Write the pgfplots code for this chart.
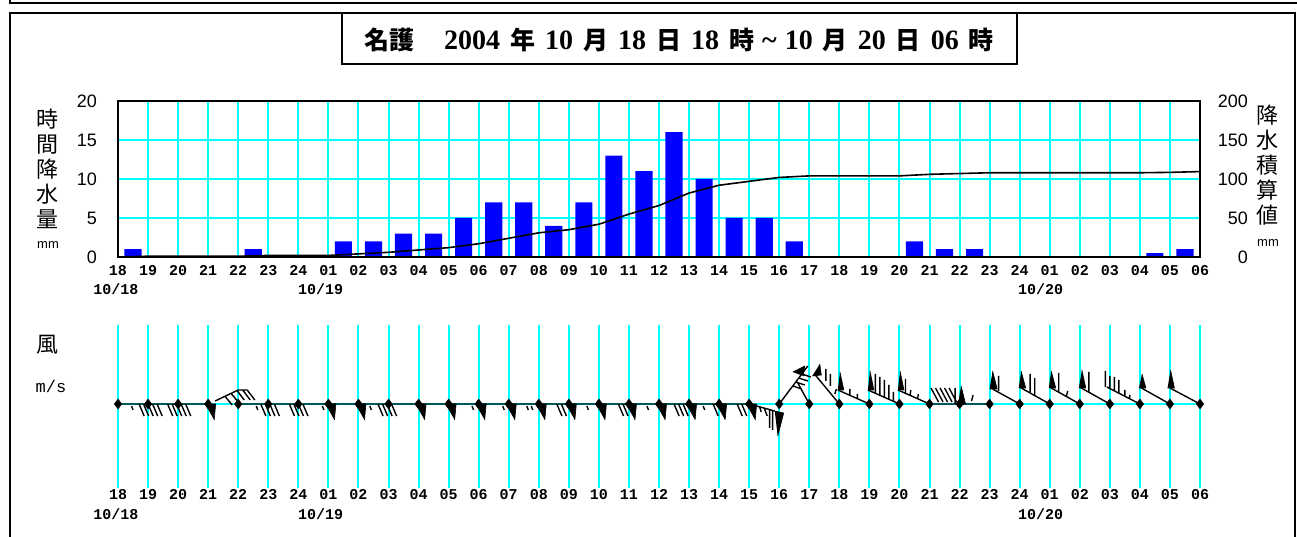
\documentclass[border=0pt]{standalone}
\usepackage{pgfplots}
\pgfplotsset{compat=1.18}
\usepackage{pgfplotstable}
\usepackage{fontspec}
\setmainfont{Liberation Sans}
\newfontfamily\cjk{Noto Sans CJK JP}
\newfontfamily\mono{Liberation Mono}
\newfontfamily\serifb{Liberation Serif}
\definecolor{cy}{RGB}{0,255,255}
\definecolor{bl}{RGB}{0,0,255}
\newcommand\ticky{\mono\bfseries\fontsize{15}{15}\selectfont}
\newcommand\yticky{\fontsize{18}{18}\selectfont}
\newcommand\tnum[1]{{\serifb\bfseries\fontsize{28}{28}\selectfont #1}}
\newcommand\g{\hspace{10pt}}

\pgfplotstableread{
k r
0.5 1
4.5 1
7.5 2
8.5 2
9.5 3
10.5 3
11.5 5
12.5 7
13.5 7
14.5 4
15.5 7
16.5 13
17.5 11
18.5 16
19.5 10
20.5 5
21.5 5
22.5 2
26.5 2
27.5 1
28.5 1
34.5 0.5
35.5 1
}\rain

\pgfplotstableread{
k c
0 0
1 1
2 1
3 1
4 1
5 2
6 2
7 2
8 4
9 6
10 9
11 12
12 17
13 24
14 31
15 35
16 42
17 55
18 66
19 82
20 92
21 97
22 102
23 104
24 104
25 104
26 104
27 106
28 107
29 108
30 108
31 108
32 108
33 108
34 108
35 108.5
36 109.5
}\cum

\def\hours{18,19,20,21,22,23,24,01,02,03,04,05,06,07,08,09,10,11,12,13,14,15,16,17,18,19,20,21,22,23,24,01,02,03,04,05,06}

\begin{document}
\begin{tikzpicture}[x=1pt,y=1pt]
\path[use as bounding box] (0,0) rectangle (1297,-537);
% frames
\draw[line width=2pt] (9.5,1) -- (9.5,-3.5) -- (1298,-3.5);
\draw[line width=2pt] (9.5,-545) -- (9.5,-13) -- (1295,-13) -- (1295,-545);
\draw[line width=1.5pt] (342,-13) rectangle (1017,-64);
\node[font=\cjk\bfseries\fontsize{25}{25}\selectfont, inner sep=0] at (679,-40)
 {名護\hspace{30pt}\tnum{2004}\g 年\g\tnum{10}\g 月\g\tnum{18}\g 日\g\tnum{18}\g 時\hspace{8pt}\tnum{\textasciitilde}\hspace{8pt}\tnum{10}\g 月\g\tnum{20}\g 日\g\tnum{06}\g 時};

% top left axis
\begin{axis}[
 at={(118pt,-257pt)}, anchor=south west, scale only axis,
 width=1082pt, height=156pt,
 xmin=0, xmax=36, ymin=0, ymax=20,
 xtick={0,...,36}, xticklabels/.expand once=\hours,
 ytick={0,5,10,15,20},
 /pgf/number format/assume math mode=true,
 xmajorgrids, ymajorgrids, major grid style={cy, line width=2pt},
 extra x ticks={6,30}, extra x tick labels={},
 extra x tick style={grid style={black, line width=1.5pt}},
 major tick length=0pt,
 axis line style={draw=none},
 xticklabel style={font=\ticky, inner sep=0pt, anchor=north, yshift=-8pt},
 yticklabel style={font=\yticky, inner sep=0pt, anchor=east, xshift=-21pt},
 clip=false]
\addplot[ybar, bar width=0.57, bar shift=0pt, fill=bl, draw=none] table[x=k,y=r] {\rain};
\draw[black, line width=2pt] (rel axis cs:0,0) rectangle (rel axis cs:1,1);
\end{axis}
% top right axis
\begin{axis}[
 at={(118pt,-257pt)}, anchor=south west, scale only axis,
 width=1082pt, height=156pt,
 xmin=0, xmax=36, ymin=0, ymax=200,
 axis x line=none, axis y line*=right,
 axis line style={draw=none},
 /pgf/number format/assume math mode=true,
 ytick={0,50,100,150,200}, major tick length=0pt,
 yticklabel style={font=\yticky, inner sep=0pt, anchor=east, xshift=48pt}]
\addplot[black, line width=1.6pt] table[x=k,y=c] {\cum};
\end{axis}

% bottom wind axis
\begin{axis}[
 at={(118pt,-488pt)}, anchor=south west, scale only axis,
 width=1082pt, height=163pt,
 xmin=0, xmax=36, ymin=-84, ymax=79,
 xtick={0,...,36}, xticklabels/.expand once=\hours,
 ytick=\empty,
 xmajorgrids, major grid style={cy, line width=2pt},
 major tick length=0pt,
 axis line style={draw=none},
 xticklabel style={font=\ticky, inner sep=0pt, anchor=north, yshift=-1pt},
 unbounded coords=jump, clip=false]
\addplot[cy, line width=2pt] coordinates {(0,0) (36,0)};
% shafts and feathers
\addplot[black, line width=1.4pt] table[row sep=\\] {
x y\\
0 0\\ 3 0\\ nan nan\\
4 0\\ 21 0\\ 21.85 -7\\ nan nan\\
27 0\\ 29 0\\ nan nan\\
0.45 -2\\ 0.5 -6\\ nan nan\\
0.7 0\\ 0.87 -12\\ nan nan\\
0.85 0\\ 1.02 -12\\ nan nan\\
1.0 0\\ 1.17 -12\\ nan nan\\
1.15 0\\ 1.32 -12\\ nan nan\\
1.3 0\\ 1.47 -12\\ nan nan\\
1.65 0\\ 1.82 -12\\ nan nan\\
1.8 0\\ 1.97 -12\\ nan nan\\
1.95 0\\ 2.12 -12\\ nan nan\\
2.1 0\\ 2.27 -12\\ nan nan\\
2.25 0\\ 2.42 -12\\ nan nan\\
3.23 3\\ 4.0 14\\ 4.3 14\\ nan nan\\
3.55 8\\ 3.8 -1\\ nan nan\\
3.75 11\\ 4.0 2\\ nan nan\\
3.95 14\\ 4.2 4\\ nan nan\\
4.15 14\\ 4.4 4\\ nan nan\\
4.3 14\\ 4.55 4\\ nan nan\\
4.6 -2\\ 4.65 -6\\ nan nan\\
4.75 0\\ 4.92 -12\\ nan nan\\
4.9 0\\ 5.07 -12\\ nan nan\\
5.05 0\\ 5.22 -12\\ nan nan\\
5.2 0\\ 5.37 -12\\ nan nan\\
5.7 0\\ 5.87 -12\\ nan nan\\
5.85 0\\ 6.02 -12\\ nan nan\\
6.0 0\\ 6.17 -12\\ nan nan\\
6.15 0\\ 6.32 -12\\ nan nan\\
6.8 -2\\ 6.85 -6\\ nan nan\\
8.38 -2\\ 8.43 -6\\ nan nan\\
8.65 0\\ 8.82 -12\\ nan nan\\
8.8 0\\ 8.97 -12\\ nan nan\\
8.95 0\\ 9.12 -12\\ nan nan\\
9.1 0\\ 9.27 -12\\ nan nan\\
11.78 -2\\ 11.83 -6\\ nan nan\\
12.8 -2\\ 12.85 -6\\ nan nan\\
13.6 -2\\ 13.65 -6\\ nan nan\\
13.75 -2\\ 13.8 -6\\ nan nan\\
14.6 0\\ 14.77 -12\\ nan nan\\
14.75 0\\ 14.92 -12\\ nan nan\\
15.6 -2\\ 15.65 -6\\ nan nan\\
16.65 0\\ 16.82 -12\\ nan nan\\
16.8 0\\ 16.97 -12\\ nan nan\\
17.6 -2\\ 17.65 -6\\ nan nan\\
18.5 0\\ 18.67 -12\\ nan nan\\
18.65 0\\ 18.82 -12\\ nan nan\\
18.8 0\\ 18.97 -12\\ nan nan\\
19.47 -2\\ 19.52 -6\\ nan nan\\
19.8 0\\ 19.97 -12\\ nan nan\\
20.6 0\\ 20.77 -12\\ nan nan\\
20.75 0\\ 20.92 -12\\ nan nan\\
21.35 -3\\ 21.4 -8\\ nan nan\\
21.5 -4\\ 21.6 -12\\ nan nan\\
21.68 -6\\ 21.68 -24\\ nan nan\\
21.78 -6\\ 21.78 -26\\ nan nan\\
22 0\\ 22.95 38\\ nan nan\\
22.45 18\\ 22.75 15\\ nan nan\\
22.55 22\\ 22.85 19\\ nan nan\\
22.65 26\\ 22.95 23\\ nan nan\\
22.75 30\\ 23.05 27\\ nan nan\\
23 0\\ 22.6 22\\ nan nan\\
24 0\\ 23.2 29\\ nan nan\\
23.55 23\\ 23.55 35\\ nan nan\\
23.7 18\\ 23.7 30\\ nan nan\\
23.85 10\\ 23.9 15\\ nan nan\\
25 0\\ 23.95 14\\ nan nan\\
24.35 8.5\\ 24.35 15\\ nan nan\\
24.6 5.5\\ 24.6 10\\ nan nan\\
26 0\\ 24.95 14\\ nan nan\\
25.2 10.7\\ 25.2 30\\ nan nan\\
25.35 8.7\\ 25.35 27\\ nan nan\\
25.5 6.7\\ 25.5 24\\ nan nan\\
25.65 4.7\\ 25.65 19\\ nan nan\\
25.8 2.7\\ 25.8 12\\ nan nan\\
27 0\\ 25.95 14\\ nan nan\\
26.2 11\\ 26.2 25\\ nan nan\\
26.35 8.5\\ 26.38 14\\ nan nan\\
26.6 5\\ 26.63 10\\ nan nan\\
27.05 16\\ 27.3 2\\ nan nan\\
27.2 16\\ 27.45 2\\ nan nan\\
27.35 16\\ 27.6 2\\ nan nan\\
27.5 16\\ 27.75 2\\ nan nan\\
27.65 16\\ 27.9 2\\ nan nan\\
27.85 0\\ 27.85 16\\ nan nan\\
28.4 3\\ 28.45 9\\ nan nan\\
30 0\\ 29.1 15\\ nan nan\\
29.3 13\\ 29.3 28\\ nan nan\\
31 0\\ 30.05 16\\ nan nan\\
30.35 11\\ 30.35 30\\ nan nan\\
30.5 8.5\\ 30.5 26\\ nan nan\\
32 0\\ 31.05 16\\ nan nan\\
31.3 12\\ 31.3 31\\ nan nan\\
31.55 7.5\\ 31.6 13\\ nan nan\\
33 0\\ 32.05 16\\ nan nan\\
32.3 12\\ 32.3 32\\ nan nan\\
34 0\\ 32.9 17\\ nan nan\\
32.85 17\\ 32.85 33\\ nan nan\\
33.0 15\\ 33.0 28\\ nan nan\\
33.15 13\\ 33.15 27\\ nan nan\\
33.3 11\\ 33.3 24\\ nan nan\\
33.5 8\\ 33.5 14\\ nan nan\\
33.65 5\\ 33.67 9\\ nan nan\\
35 0\\ 34.05 16\\ nan nan\\
36 0\\ 35.0 16\\ nan nan\\
};
% filled flags
\addplot[black, fill=black, line width=0.6pt] table[row sep=\\] {
x y\\
2.9 0\\ 3.25 0\\ 3.2 -16\\ nan nan\\
6.9 0\\ 7.25 0\\ 7.2 -16\\ nan nan\\
7.9 0\\ 8.25 0\\ 8.2 -16\\ nan nan\\
9.9 0\\ 10.25 0\\ 10.2 -16\\ nan nan\\
10.9 0\\ 11.25 0\\ 11.2 -16\\ nan nan\\
11.9 0\\ 12.25 0\\ 12.2 -16\\ nan nan\\
12.9 0\\ 13.25 0\\ 13.2 -16\\ nan nan\\
13.9 0\\ 14.25 0\\ 14.2 -16\\ nan nan\\
14.9 0\\ 15.25 0\\ 15.2 -16\\ nan nan\\
15.9 0\\ 16.25 0\\ 16.2 -16\\ nan nan\\
16.9 0\\ 17.25 0\\ 17.2 -16\\ nan nan\\
17.9 0\\ 18.25 0\\ 18.2 -16\\ nan nan\\
18.9 0\\ 19.25 0\\ 19.2 -16\\ nan nan\\
19.9 0\\ 20.25 0\\ 20.2 -16\\ nan nan\\
20.9 0\\ 21.25 0\\ 21.2 -16\\ nan nan\\
21.85 -7\\ 22.15 -9\\ 21.95 -32\\ nan nan\\
22.45 32\\ 22.85 38\\ 22.8 28\\ nan nan\\
23.1 28\\ 23.4 29\\ 23.35 40\\ nan nan\\
23.95 14\\ 24.15 14\\ 24.02 32\\ nan nan\\
24.95 14\\ 25.15 14\\ 25.02 33\\ nan nan\\
25.95 14\\ 26.15 14\\ 26.02 33\\ nan nan\\
27.95 0\\ 28.2 0\\ 28.05 18\\ nan nan\\
29.0 15\\ 29.25 15\\ 29.1 33\\ nan nan\\
29.97 16\\ 30.2 16\\ 30.05 33\\ nan nan\\
30.97 16\\ 31.2 16\\ 31.05 33\\ nan nan\\
31.97 16\\ 32.2 16\\ 32.07 34\\ nan nan\\
33.97 16\\ 34.2 16\\ 34.07 30\\ nan nan\\
34.92 16\\ 35.15 16\\ 35.02 34\\ nan nan\\
};
\addplot[only marks, mark=diamond*, mark size=5pt, black] coordinates {
(0,0)(1,0)(2,0)(3,0)(4,0)(5,0)(6,0)(7,0)(8,0)(9,0)(10,0)(11,0)(12,0)
(13,0)(14,0)(15,0)(16,0)(17,0)(18,0)(19,0)(20,0)(21,0)(22,0)(23,0)(24,0)
(25,0)(26,0)(27,0)(28,0)(29,0)(30,0)(31,0)(32,0)(33,0)(34,0)(35,0)(36,0)};
\end{axis}

% date labels
\foreach \yy in {-289,-514}{
 \node[font=\ticky, inner sep=0] at (116,\yy) {10/18};
 \node[font=\ticky, inner sep=0, anchor=west] at (298,\yy) {10/19};
 \node[font=\ticky, inner sep=0, anchor=west] at (1018,\yy) {10/20};
}
% axis titles
\node[font=\cjk\fontsize{22}{25}\selectfont, align=center, inner sep=0] at (47,-169) {時\\間\\降\\水\\量};
\node[font=\fontsize{13}{13}\selectfont, inner sep=0] at (48,-245) {mm};
\node[font=\cjk\fontsize{22}{25}\selectfont, align=center, inner sep=0] at (1267,-165) {降\\水\\積\\算\\値};
\node[font=\fontsize{13}{13}\selectfont, inner sep=0] at (1268,-243) {mm};
\node[font=\cjk\fontsize{22}{22}\selectfont, inner sep=0] at (47,-345) {風};
\node[font=\mono\fontsize{17}{17}\selectfont, inner sep=0] at (51,-386) {m/s};
\end{tikzpicture}
\end{document}
